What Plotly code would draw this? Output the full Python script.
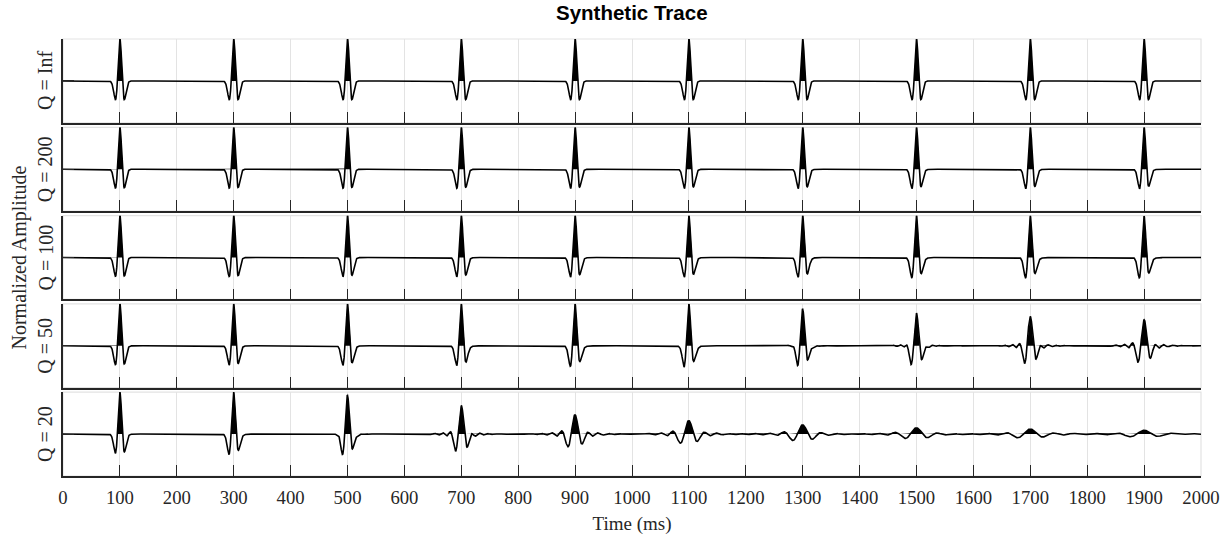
import numpy as np
import plotly.graph_objects as go

# ---------------- data ----------------
reflector_times_ms = [100, 300, 500, 700, 900, 1100, 1300, 1500, 1700, 1900]
q_labels = ["Q = Inf", "Q = 200", "Q = 100", "Q = 50", "Q = 20"]
q_values = [np.inf, 200.0, 100.0, 50.0, 20.0]
# peak amplitude of each event in each panel (fraction of the axis half-height)
peak_amp_qinf = [1, 1, 1, 1, 1, 1, 1, 1, 1, 1]
peak_amp_q200 = [1, 1, 1, 1, 1, 1, 1, 1, 1, 1]
peak_amp_q100 = [1, 1, 1, 1, 1, 1, 1, 1, 1, 0.99]
peak_amp_q50 = [1, 1, 1, 1, 1, 1, 0.87, 0.78, 0.70, 0.62]
peak_amp_q20 = [1, 1, 0.92, 0.68, 0.46, 0.32, 0.22, 0.15, 0.12, 0.09]
peak_amps = [peak_amp_qinf, peak_amp_q200, peak_amp_q100, peak_amp_q50, peak_amp_q20]
wavelet_freq_hz = 50.0
x_ticks = list(range(0, 2001, 100))

# ---------------- synthetic seismogram (Ricker + constant-Q) ----------------
dt = 0.0005
t = np.arange(0, 2.0 + dt / 2, dt)
nfft = 8192
f = np.fft.rfftfreq(nfft, dt)
tw = (np.arange(nfft) - nfft // 2) * dt
f_safe = np.where(f > 0, f, 1e-6)
ricker_spec = (f / wavelet_freq_hz) ** 2 * np.exp(-(f / wavelet_freq_hz) ** 2)


def event_wavelet(tau_s, q):
    spec = ricker_spec.astype(complex)
    if np.isfinite(q):
        x = tau_s * 1000.0 / q
        ta = 0.12 * tau_s
        spec = spec * np.exp(-np.pi * f * ta / q)
        dtf = -(ta / (np.pi * q)) * np.log(f_safe / wavelet_freq_hz)
        spec = spec * np.exp(-2j * np.pi * f * dtf)
        fc = 2500.0 / x
        spec = spec * 0.5 * (1 - np.tanh((f - fc) / (0.065 * fc)))
    w = np.roll(np.fft.irfft(spec, nfft), nfft // 2)
    p = np.argmax(w)
    return tw - tw[p], w / w[p]


traces = []
for q, amps in zip(q_values, peak_amps):
    y = np.zeros_like(t)
    for tau_ms, a in zip(reflector_times_ms, amps):
        tau = tau_ms / 1000.0
        xs, w = event_wavelet(tau, q)
        y += a * np.interp(t - tau, xs, w, left=0.0, right=0.0)
    traces.append(y)

t_ms = t * 1000.0

# ---------------- figure ----------------
W, H = 1232, 537
ml, mr, mt, mb = 63, 31, 39, 61
ph = H - mt - mb
gap = 4.4
panel_h = (ph - 4 * gap) / 5

axis_col = "#262626"
grid_col = "#e3e3e3"
serif = "Liberation Serif, Times New Roman, serif"

fig = go.Figure()
layout_axes = {}
shapes = []
annotations = []
for i, (y, lab) in enumerate(zip(traces, q_labels)):
    n = i + 1
    xa = "x" if n == 1 else f"x{n}"
    ya = "y" if n == 1 else f"y{n}"
    fig.add_trace(go.Scatter(x=t_ms, y=np.clip(y, 0, None), mode="lines",
                             line=dict(width=0, color="black"), fill="tozeroy",
                             fillcolor="black", xaxis=xa, yaxis=ya,
                             hoverinfo="skip", showlegend=False))
    fig.add_trace(go.Scatter(x=t_ms, y=y, mode="lines",
                             line=dict(width=1.6, color="black"),
                             xaxis=xa, yaxis=ya, showlegend=False))
    top_px = i * (panel_h + gap)
    y1 = 1 - top_px / ph
    y0 = 1 - (top_px + panel_h) / ph
    xkey = "xaxis" if n == 1 else f"xaxis{n}"
    ykey = "yaxis" if n == 1 else f"yaxis{n}"
    layout_axes[xkey] = dict(
        domain=[0, 1], anchor=ya, range=[0, 2000], tickvals=x_ticks,
        ticks="inside", ticklen=11, tickwidth=1.3, tickcolor=axis_col,
        showline=True, linecolor=axis_col, linewidth=1.6,
        showgrid=True, gridcolor=grid_col, gridwidth=1, zeroline=False,
        showticklabels=(n == 5), ticklabelstandoff=4, automargin=False,
        tickfont=dict(family=serif, size=18.7, color=axis_col),
        matches=None if n == 5 else "x5",
    )
    if n == 5:
        layout_axes[xkey]["title"] = dict(text="Time (ms)",
                                         font=dict(family=serif, size=19, color=axis_col),
                                         standoff=9)
    layout_axes[ykey] = dict(
        domain=[y0, y1], anchor=xa, range=[-1, 1], tickvals=[-1, 0, 1],
        ticks="inside", ticklen=11, tickwidth=1.3, tickcolor=axis_col,
        showline=True, linecolor=axis_col, linewidth=1.6, automargin=False,
        showgrid=False, zeroline=False, showticklabels=False,
    )
    shapes.append(dict(type="rect", xref=f"{xa} domain", yref=f"{ya} domain",
                       x0=0, x1=1, y0=0, y1=1, line=dict(color=grid_col, width=1.2),
                       layer="below"))
    annotations.append(dict(text=lab, xref="paper", yref="paper",
                            x=(45 - ml) / (W - ml - mr), y=(y0 + y1) / 2,
                            textangle=-90, showarrow=False, xanchor="center",
                            yanchor="middle",
                            font=dict(family=serif, size=20, color=axis_col)))

annotations.append(dict(text="Normalized Amplitude", xref="paper", yref="paper",
                        x=(19 - ml) / (W - ml - mr), y=0.5, textangle=-90,
                        showarrow=False, xanchor="center", yanchor="middle",
                        font=dict(family=serif, size=20, color=axis_col)))
annotations.append(dict(text="<b>Synthetic Trace</b>", xref="paper", yref="paper",
                        x=0.5, y=1 + (mt - 12) / ph, showarrow=False,
                        xanchor="center", yanchor="middle",
                        font=dict(family="Liberation Sans, Arial, sans-serif",
                                  size=20.5, color="black")))

fig.update_layout(
    width=W, height=H, margin=dict(l=ml, r=mr, t=mt, b=mb),
    paper_bgcolor="white", plot_bgcolor="white",
    shapes=shapes, annotations=annotations, showlegend=False,
    **layout_axes,
)

fig.write_html("out.html", config={"displayModeBar": False})
